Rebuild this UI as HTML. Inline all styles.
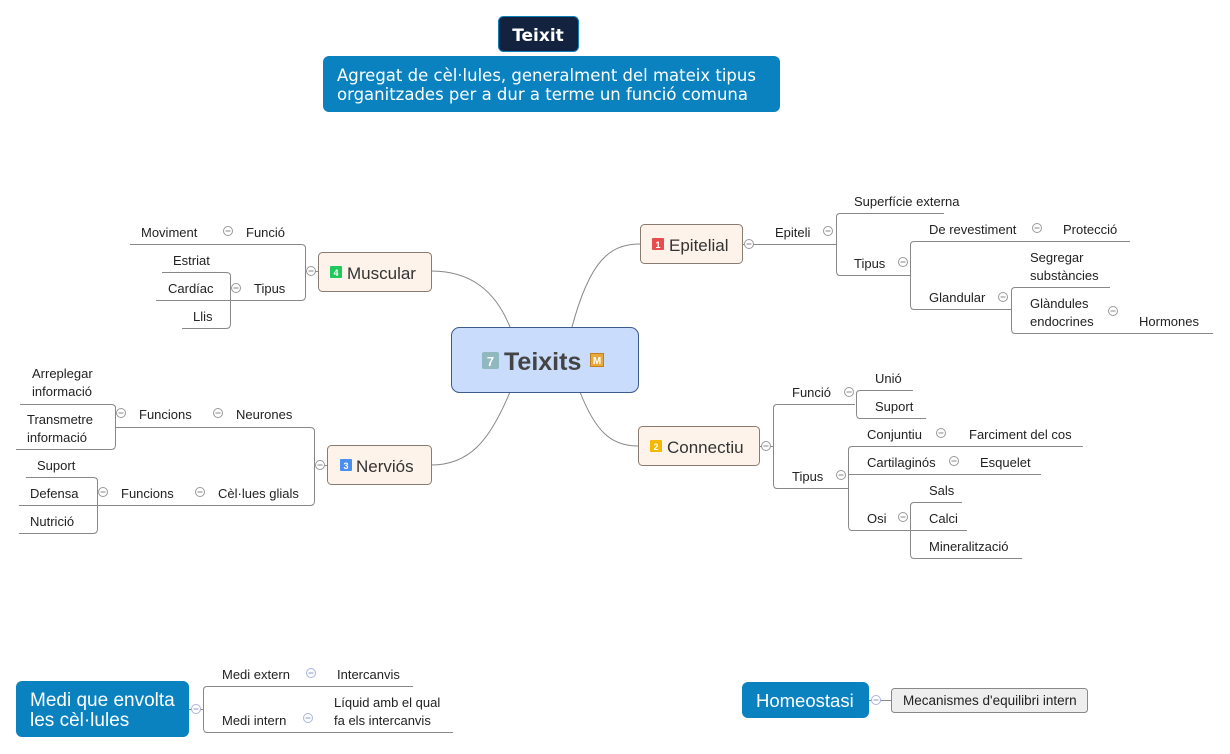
<!DOCTYPE html>
<html><head><meta charset="utf-8"><style>
html,body{margin:0;padding:0;background:#fff;}
svg{display:block;}
text{font-family:"Liberation Sans","DejaVu Sans",sans-serif;font-size:13px;fill:#222;}
.l{stroke:#888;stroke-width:1;fill:none;}
.dv{font-family:"DejaVu Sans",sans-serif;}
</style></head><body>
<svg width="1230" height="754" viewBox="0 0 1230 754" xmlns="http://www.w3.org/2000/svg">
<defs>
<g id="tg"><circle r="4.5" fill="#fff" stroke="#999"/><line x1="-2.5" x2="2.5" y1="0" y2="0" stroke="#888"/></g>
<g id="tb"><circle r="4.5" fill="#fff" stroke="#aab4dd"/><line x1="-2.5" x2="2.5" y1="0" y2="0" stroke="#8899cc"/></g>
</defs>
<path class="l" d="M572,327 C590,260 610,244 640,244"/>
<path class="l" d="M510,327 C495,290 470,271 431,271"/>
<path class="l" d="M510,392 C490,440 470,465 431,465"/>
<path class="l" d="M580,392 C595,430 610,446 638,446"/>

<rect x="498.5" y="16.5" width="80" height="35" rx="5" fill="#13233f" stroke="#0d7fb9"/>
<text x="538" y="41" text-anchor="middle" class="dv" style="fill:#fff;font-weight:bold;font-size:17px">Teixit</text>
<rect x="323" y="56" width="457" height="56" rx="6" fill="#0a82c0"/>
<text x="337" y="81" class="dv" style="fill:#fff;font-size:16.5px">Agregat de cèl·lules, generalment del mateix tipus</text>
<text x="337" y="100" class="dv" style="fill:#fff;font-size:16.5px">organitzades per a dur a terme un funció comuna</text>

<rect x="451.5" y="327.5" width="187" height="65" rx="8" fill="#c9dcfb" stroke="#3d5a8a"/>
<rect x="482" y="352" width="17" height="17" rx="2" fill="#8fb8bf"/>
<text x="490.5" y="366" text-anchor="middle" style="fill:#fff;font-weight:bold;font-size:13px">7</text>
<text x="504" y="370" style="fill:#444;font-weight:bold;font-size:25px">Teixits</text>
<rect x="590.5" y="353.5" width="13" height="13" fill="#e8a93a" stroke="#c08020"/>
<text x="597" y="364" text-anchor="middle" style="fill:#fff;font-weight:bold;font-size:10px">M</text>

<rect x="640.5" y="224.5" width="102" height="39" rx="4" fill="#fdf3ea" stroke="#8a7b70"/>
<rect x="652" y="238" width="12" height="12" rx="1" fill="#e84c4c"/><text x="658" y="248" text-anchor="middle" style="fill:#fff;font-size:9px;font-weight:bold">1</text>
<text x="669" y="251" style="font-size:17px;fill:#333">Epitelial</text>

<rect x="318.5" y="252.5" width="113" height="39" rx="4" fill="#fdf3ea" stroke="#8a7b70"/>
<rect x="330" y="266" width="12" height="12" rx="1" fill="#1ec85a"/><text x="336" y="276" text-anchor="middle" style="fill:#fff;font-size:9px;font-weight:bold">4</text>
<text x="347" y="279" style="font-size:17px;fill:#333">Muscular</text>

<rect x="327.5" y="445.5" width="104" height="39" rx="4" fill="#fdf3ea" stroke="#8a7b70"/>
<rect x="340" y="459" width="12" height="12" rx="1" fill="#4a8ef0"/><text x="346" y="469" text-anchor="middle" style="fill:#fff;font-size:9px;font-weight:bold">3</text>
<text x="356" y="472" style="font-size:17px;fill:#333">Nerviós</text>

<rect x="638.5" y="426.5" width="121" height="39" rx="4" fill="#fdf3ea" stroke="#8a7b70"/>
<rect x="650" y="440" width="12" height="12" rx="1" fill="#f5b800"/><text x="656" y="450" text-anchor="middle" style="fill:#fff;font-size:9px;font-weight:bold">2</text>
<text x="667" y="453" style="font-size:17px;fill:#333">Connectiu</text>

<path class="l" d="M742,244.5 H836.5"/>
<path class="l" d="M944,213.5 H840 Q836.5,213.5 836.5,217 V271 Q836.5,275.5 840,275.5 H910.5"/>
<path class="l" d="M1130,241.5 H914 Q910.5,241.5 910.5,245 V305 Q910.5,309.5 914,309.5 H1011.5"/>
<path class="l" d="M1110,287.5 H1015 Q1011.5,287.5 1011.5,291 V329 Q1011.5,333.5 1015,333.5 H1213"/>
<use href="#tg" x="749" y="244"/><use href="#tg" x="828" y="231"/><use href="#tg" x="903" y="262"/>
<use href="#tg" x="1037" y="228"/><use href="#tg" x="1003" y="297"/><use href="#tg" x="1113" y="311"/>
<text x="775" y="237">Epiteli</text>
<text x="854" y="206">Superfície externa</text>
<text x="854" y="268">Tipus</text>
<text x="929" y="234">De revestiment</text>
<text x="1063" y="234">Protecció</text>
<text x="929" y="302">Glandular</text>
<text x="1030" y="262">Segregar</text><text x="1030" y="280">substàncies</text>
<text x="1030" y="308">Glàndules</text><text x="1030" y="326">endocrines</text>
<text x="1139" y="326">Hormones</text>

<path class="l" d="M759,446.5 H773.5"/>
<path class="l" d="M855,404.5 H777 Q773.5,404.5 773.5,408 V484 Q773.5,488.5 777,488.5 H848.5"/>
<path class="l" d="M913,390.5 H860 Q856.5,390.5 856.5,394 V414 Q856.5,418.5 860,418.5 H926"/>
<path class="l" d="M1083,446.5 H852 Q848.5,446.5 848.5,450 V526 Q848.5,530.5 852,530.5 H910.5"/>
<path class="l" d="M848.5,474.5 H1041"/>
<path class="l" d="M962,502.5 H914 Q910.5,502.5 910.5,506 V554 Q910.5,558.5 914,558.5 H1022"/>
<path class="l" d="M910.5,530.5 H967"/>
<use href="#tg" x="766" y="446"/><use href="#tg" x="849" y="392"/><use href="#tg" x="841" y="475"/>
<use href="#tg" x="941" y="433"/><use href="#tg" x="954" y="461"/><use href="#tg" x="903" y="517"/>
<text x="792" y="397">Funció</text>
<text x="875" y="383">Unió</text>
<text x="875" y="411">Suport</text>
<text x="792" y="481">Tipus</text>
<text x="867" y="439">Conjuntiu</text><text x="969" y="439">Farciment del cos</text>
<text x="867" y="467">Cartilaginós</text><text x="980" y="467">Esquelet</text>
<text x="867" y="523">Osi</text>
<text x="929" y="495">Sals</text>
<text x="929" y="523">Calci</text>
<text x="929" y="551">Mineralització</text>

<path class="l" d="M318,271.5 H305.5"/>
<path class="l" d="M130,244.5 H301 Q305.5,244.5 305.5,248 V296 Q305.5,300.5 301,300.5 H156"/>
<path class="l" d="M162,272.5 H226 Q230.5,272.5 230.5,276 V324 Q230.5,328.5 226,328.5 H182"/>
<use href="#tg" x="311" y="271"/><use href="#tg" x="228" y="231"/><use href="#tg" x="236" y="288"/>
<text x="141" y="237">Moviment</text><text x="246" y="237">Funció</text>
<text x="173" y="265">Estriat</text>
<text x="168" y="293">Cardíac</text><text x="254" y="293">Tipus</text>
<text x="193" y="321">Llis</text>

<path class="l" d="M327,465.5 H314.5"/>
<path class="l" d="M115,427.5 H310 Q314.5,427.5 314.5,431 V501 Q314.5,505.5 310,505.5 H97"/>
<path class="l" d="M20,404.5 H111 Q115.5,404.5 115.5,408 V445 Q115.5,449.5 111,449.5 H16"/>
<path class="l" d="M26,477.5 H93 Q97.5,477.5 97.5,481 V529 Q97.5,533.5 93,533.5 H19"/>
<path class="l" d="M19,505.5 H97"/>
<use href="#tg" x="320" y="465"/><use href="#tg" x="218" y="413"/><use href="#tg" x="121" y="413"/>
<use href="#tg" x="200" y="492"/><use href="#tg" x="103" y="492"/>
<text x="32" y="378">Arreplegar</text><text x="32" y="396">informació</text>
<text x="27" y="424">Transmetre</text><text x="27" y="442">informació</text>
<text x="139" y="419">Funcions</text><text x="236" y="419">Neurones</text>
<text x="37" y="470">Suport</text>
<text x="30" y="498">Defensa</text>
<text x="30" y="526">Nutrició</text>
<text x="121" y="498">Funcions</text><text x="218" y="498">Cèl·lues glials</text>

<rect x="16" y="681" width="173" height="56" rx="6" fill="#0a82c0"/>
<text x="30" y="706" style="fill:#fff;font-size:19px">Medi que envolta</text>
<text x="30" y="726" style="fill:#fff;font-size:19px">les cèl·lules</text>
<path class="l" d="M189,709.5 H203.5"/>
<path class="l" d="M413,686.5 H207 Q203.5,686.5 203.5,690 V728 Q203.5,732.5 207,732.5 H453"/>
<use href="#tb" x="196" y="709"/><use href="#tb" x="311" y="673"/><use href="#tb" x="308" y="718"/>
<text x="222" y="679">Medi extern</text><text x="337" y="679">Intercanvis</text>
<text x="222" y="725">Medi intern</text>
<text x="334" y="707">Líquid amb el qual</text><text x="334" y="725">fa els intercanvis</text>

<rect x="742" y="682" width="127" height="36" rx="6" fill="#0a82c0"/>
<text x="756" y="707" style="fill:#fff;font-size:18.5px">Homeostasi</text>
<path class="l" d="M869,700.5 H891"/>
<use href="#tb" x="876" y="700"/>
<rect x="891.5" y="688.5" width="196" height="24" rx="3" fill="#eeeeee" stroke="#888"/>
<text x="903" y="705" style="font-size:13.5px">Mecanismes d'equilibri intern</text>
</svg>
</body></html>
